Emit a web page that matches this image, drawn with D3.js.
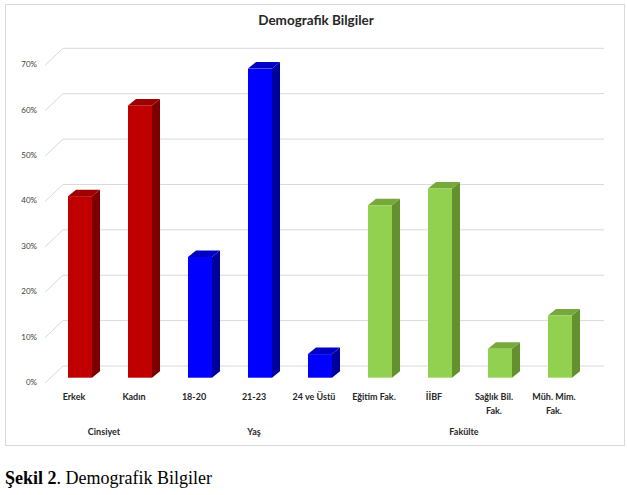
<!DOCTYPE html>
<meta charset="utf-8">
<script src="https://d3js.org/d3.v7.min.js"></script>
<style>
  body { margin: 0; background: #fff; }
</style>
<div id="chart"></div>
<script>
// data
var categories = ["Erkek", "Kadın", "18-20", "21-23", "24 ve Üstü", "Eğitim Fak.", "İİBF", "Sağlık Bil. Fak.", "Müh. Mim. Fak."];
var labelLines = [["Erkek"], ["Kadın"], ["18-20"], ["21-23"], ["24 ve Üstü"], ["Eğitim Fak."], ["İİBF"], ["Sağlık Bil.", "Fak."], ["Müh. Mim.", "Fak."]];
var values = [0.40, 0.60, 0.266, 0.681, 0.052, 0.38, 0.417, 0.064, 0.137];
var groupOf = ["Cinsiyet", "Cinsiyet", "Yaş", "Yaş", "Yaş", "Fakülte", "Fakülte", "Fakülte", "Fakülte"];
var groups = ["Cinsiyet", "Yaş", "Fakülte"];
var yTicks = [0, 0.1, 0.2, 0.3, 0.4, 0.5, 0.6, 0.7];

var colors = {
  "Cinsiyet": {front: "#c00000", side: "#7d0000", top: "#9e0000"},
  "Yaş":      {front: "#0000ff", side: "#00009c", top: "#0000c4"},
  "Fakülte":  {front: "#92d050", side: "#64902f", top: "#76a83c"}
};

var W = 627, H = 495;
var svg = d3.select("#chart").append("svg")
    .attr("width", W)
    .attr("height", H);

// chart frame
svg.append("rect")
    .attr("x", 5.5).attr("y", 4.5)
    .attr("width", 619).attr("height", 441)
    .attr("fill", "#fff")
    .attr("stroke", "#d9d9d9");

svg.append("text")
    .attr("x", 316).attr("y", 25)
    .attr("text-anchor", "middle")
    .style("font-family", "Lato")
    .style("font-weight", "bold")
    .style("font-size", "13.5px")
    .style("fill", "#262626")
    .text("Demografik Bilgiler");

// back wall scale, oblique offsets
var wallLeft = 63, wallRight = 604;
var floorDx = -18, floorDy = 17;   // back wall -> front of floor
var barDy = 11.7;                  // back wall -> front face of bars
var depthX = 8, depthY = -6.5;     // bar depth

var y = d3.scaleLinear().domain([0, 0.7]).range([366, 48.3]);

var x = d3.scaleBand()
    .domain(categories)
    .range([50, 590])
    .paddingInner(0.6)
    .paddingOuter(0.3);

// gridlines + diagonals
var grid = svg.append("g");
yTicks.forEach(function(t) {
  var yy = y(t);
  grid.append("line")
      .attr("x1", wallLeft).attr("x2", wallRight)
      .attr("y1", yy).attr("y2", yy)
      .attr("stroke", "#d9d9d9").attr("stroke-width", 1);
  grid.append("line")
      .attr("x1", wallLeft + floorDx).attr("y1", yy + floorDy)
      .attr("x2", wallLeft).attr("y2", yy)
      .attr("stroke", "#d9d9d9").attr("stroke-width", 1);
  grid.append("text")
      .attr("x", 37).attr("y", yy + floorDy)
      .attr("text-anchor", "end")
      .attr("dominant-baseline", "middle")
      .style("font-family", "Lato")
      .style("font-size", "8px")
      .style("fill", "#404040")
      .text(d3.format(".0%")(t));
});

// 3D bars
var bars = svg.append("g").selectAll("g")
    .data(categories)
    .enter().append("g");

bars.each(function(c, i) {
  var g = d3.select(this);
  var col = colors[groupOf[i]];
  var x0 = x(c), x1 = x(c) + x.bandwidth();
  var yb = y(0) + barDy, yt = y(values[i]) + barDy;
  // side
  g.append("path")
      .attr("d", "M" + x1 + "," + yb + "L" + (x1 + depthX) + "," + (yb + depthY) +
                 "L" + (x1 + depthX) + "," + (yt + depthY) + "L" + x1 + "," + yt + "Z")
      .attr("fill", col.side);
  // top
  g.append("path")
      .attr("d", "M" + x0 + "," + yt + "L" + (x0 + depthX) + "," + (yt + depthY) +
                 "L" + (x1 + depthX) + "," + (yt + depthY) + "L" + x1 + "," + yt + "Z")
      .attr("fill", col.top);
  // front
  g.append("rect")
      .attr("x", x0).attr("y", yt)
      .attr("width", x.bandwidth()).attr("height", yb - yt)
      .attr("fill", col.front);
});

// category labels
var labShift = -6;
svg.append("g").selectAll("text")
    .data(categories)
    .enter().append("text")
    .attr("x", function(d) { return x(d) + x.bandwidth() / 2 + labShift; })
    .attr("y", 397)
    .attr("text-anchor", "middle")
    .style("font-family", "Lato")
    .style("font-weight", "bold")
    .style("font-size", "9px")
    .style("fill", "#262626")
    .each(function(d, i) {
      var t = d3.select(this);
      labelLines[i].forEach(function(line, k) {
        t.append("tspan")
            .attr("x", x(d) + x.bandwidth() / 2 + labShift)
            .attr("dy", k === 0 ? "0.35em" : "14px")
            .text(line);
      });
    });

// group labels
svg.append("g").selectAll("text")
    .data(groups)
    .enter().append("text")
    .attr("x", function(gname) {
      var cs = categories.filter(function(c, i) { return groupOf[i] === gname; });
      return d3.mean(cs, function(c) { return x(c) + x.bandwidth() / 2; }) + labShift;
    })
    .attr("y", 432)
    .attr("dy", "0.35em")
    .attr("text-anchor", "middle")
    .style("font-family", "Lato")
    .style("font-weight", "bold")
    .style("font-size", "9px")
    .style("fill", "#262626")
    .text(function(d) { return d; });

// caption below chart
var cap = svg.append("text")
    .attr("x", 5).attr("y", 484)
    .style("font-family", "Liberation Serif")
    .style("font-size", "18px")
    .style("fill", "#000");
cap.append("tspan").style("font-weight", "bold").text("Şekil 2");
cap.append("tspan").text(". Demografik Bilgiler");
</script>
